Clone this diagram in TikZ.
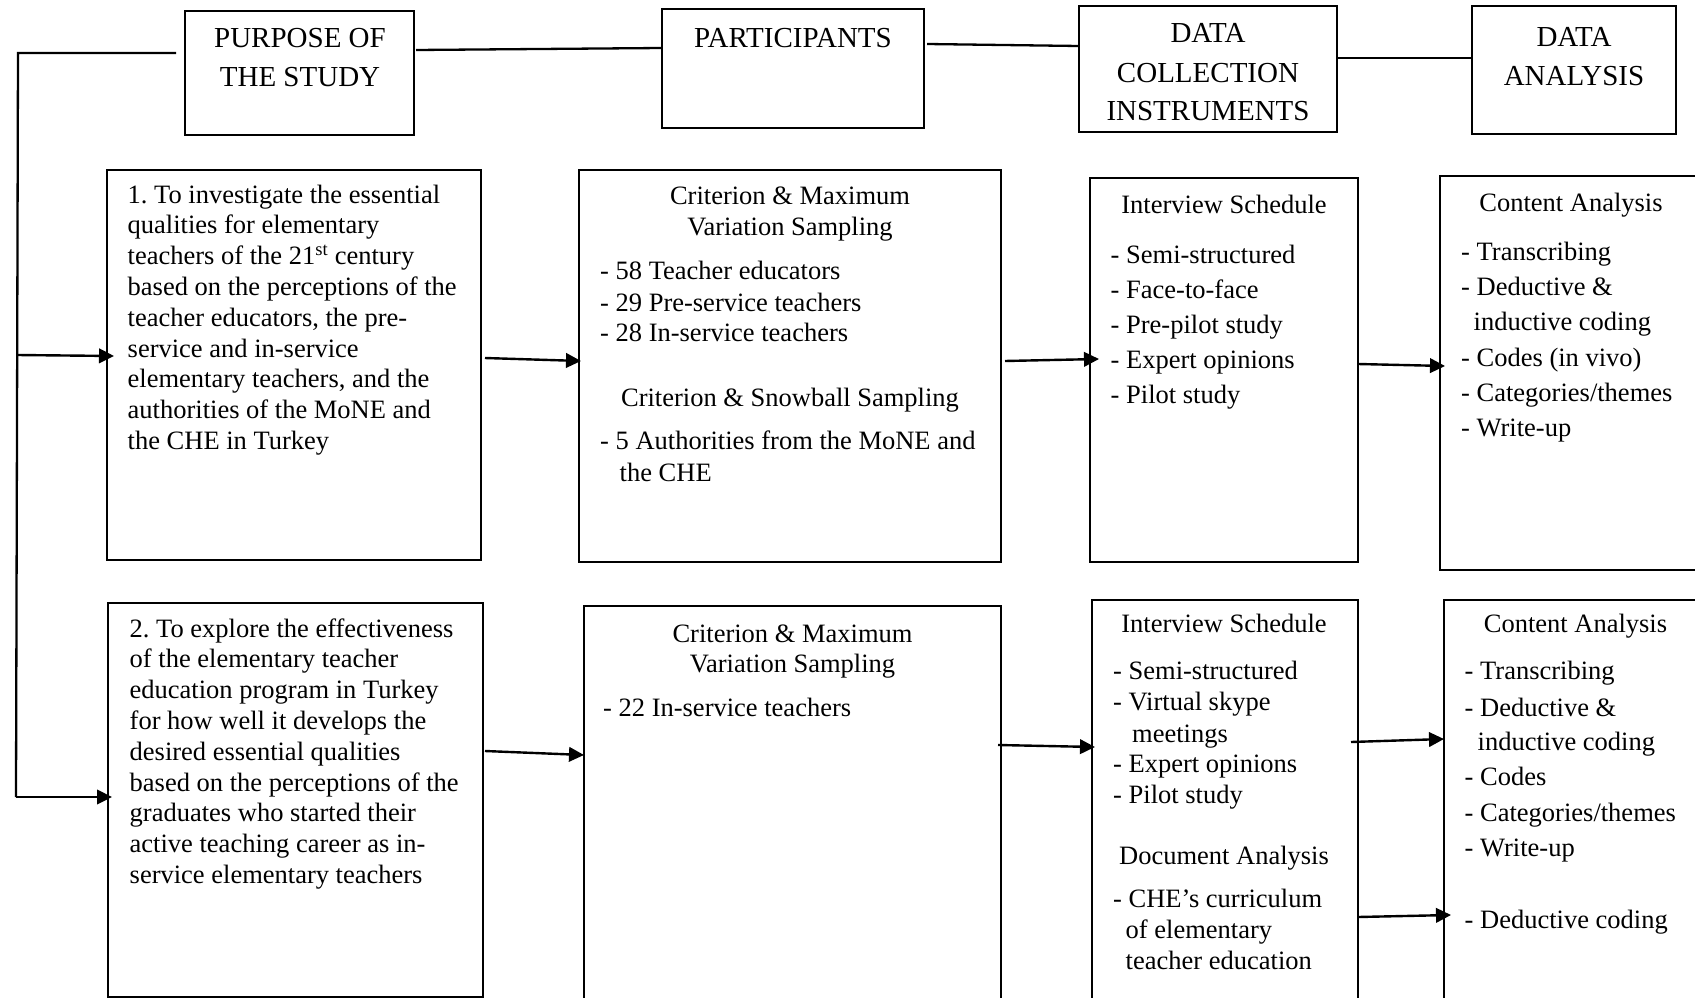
\documentclass[tikz,border=0pt]{standalone}
\usepackage{fontspec}
\setmainfont{Liberation Serif}
\usetikzlibrary{arrows.meta}
\frenchspacing
\begin{document}
\begin{tikzpicture}[x=1pt,y=-1pt,
 box/.style={draw, line width=1.8pt, inner sep=0pt, outer sep=0pt, anchor=north west},
 ln/.style={line width=2.3pt},
 arr/.style={line width=2.4pt, -{Triangle[length=15pt,width=14.5pt]}},
 hd/.style={font=\fontsize{29}{38}\selectfont, inner sep=0pt, anchor=base},
 tx/.style={font=\fontsize{26.5}{31}\selectfont, inner sep=0pt, anchor=base west},
 tc/.style={font=\fontsize{26.5}{31}\selectfont, inner sep=0pt, anchor=base},
]
\useasboundingbox (0,0) rectangle (1695,998);
\fill[white] (0,0) rectangle (1695,998);
\clip (0,0) rectangle (1695,998);

% header boxes
\node[box, minimum width=229pt, minimum height=124pt] (hp) at (185,11) {};
\node[box, minimum width=262pt, minimum height=119pt] (hpart) at (662,9) {};
\node[box, minimum width=258pt, minimum height=126pt] (hdc) at (1079,6) {};
\node[box, minimum width=204pt, minimum height=128pt] (hda) at (1472,6) {};

% row boxes
\node[box, minimum width=374pt, minimum height=390pt] (p1) at (107,170) {};
\node[box, minimum width=422pt, minimum height=392pt] (part1) at (579,170) {};
\node[box, minimum width=268pt, minimum height=384pt] (dc1) at (1090,178) {};
\node[box, minimum width=320pt, minimum height=394pt] (da1) at (1440,176) {};
\node[box, minimum width=375pt, minimum height=394pt] (p2) at (108,603) {};
\node[box, minimum width=417pt, minimum height=450pt] (part2) at (584,606) {};
\node[box, minimum width=266pt, minimum height=450pt] (dc2) at (1092,600) {};
\node[box, minimum width=320pt, minimum height=450pt] (da2) at (1444,600) {};

% header texts
\node[hd] (hp-1) at (300,47.5) {PURPOSE OF};
\node[hd] (hp-2) at (300,86.5) {THE STUDY};
\node[hd] (hpart-1) at (793,47.5) {PARTICIPANTS};
\node[hd] (hdc-1) at (1208,43) {DATA};
\node[hd] (hdc-2) at (1208,82) {COLLECTION};
\node[hd] (hdc-3) at (1208,121) {INSTRUMENTS};
\node[hd] (hda-1) at (1574,46.5) {DATA};
\node[hd] (hda-2) at (1574,85.5) {ANALYSIS};

% purpose 1
\foreach \t [count=\i] in {{1. To investigate the essential},{qualities for elementary},{teachers of the 21\textsuperscript{st} century},{based on the perceptions of the},{teacher educators, the pre-},{service and in-service},{elementary teachers, and the},{authorities of the MoNE and},{the CHE in Turkey}}
  \node[tx] (p1-\i) at (127.5,{203+(\i-1)*30.8}) {\t};

% purpose 2
\foreach \t [count=\i] in {{2. To explore the effectiveness},{of the elementary teacher},{education program in Turkey},{for how well it develops the},{desired essential qualities},{based on the perceptions of the},{graduates who started their},{active teaching career as in-},{service elementary teachers}}
  \node[tx] (p2-\i) at (129.5,{637+(\i-1)*30.8}) {\t};

% participants 1
\node[tc] (pa1-1) at (790,204) {Criterion \& Maximum};
\node[tc] (pa1-2) at (790,235) {Variation Sampling};
\node[tx] (pa1-3) at (600,279.5) {- 58 Teacher educators};
\node[tx] (pa1-4) at (600,311) {- 29 Pre-service teachers};
\node[tx] (pa1-5) at (600,341.5) {- 28 In-service teachers};
\node[tc] (pa1-6) at (790,406) {Criterion \& Snowball Sampling};
\node[tx] (pa1-7) at (600,449) {- 5 Authorities from the MoNE and};
\node[tx] (pa1-8) at (619.5,481.5) {the CHE};

% participants 2
\node[tc] (pa2-1) at (792.5,642) {Criterion \& Maximum};
\node[tc] (pa2-2) at (792.5,672) {Variation Sampling};
\node[tx] (pa2-3) at (603,716) {- 22 In-service teachers};

% data collection 1
\node[tc] (dc1-0) at (1224,213.5) {Interview Schedule};
\foreach \t [count=\i] in {{- Semi-structured},{- Face-to-face},{- Pre-pilot study},{- Expert opinions},{- Pilot study}}
  \node[tx] (dc1-\i) at (1110.5,{263+(\i-1)*35.1}) {\t};

% data analysis 1
\node[tc] (da1-0) at (1571,211) {Content Analysis};
\node[tx] (da1-1) at (1461,260) {- Transcribing};
\node[tx] (da1-2) at (1461,295.5) {- Deductive \&};
\node[tx] (da1-3) at (1473.5,330) {inductive coding};
\node[tx] (da1-4) at (1461,366) {- Codes (in vivo)};
\node[tx] (da1-5) at (1461,401.5) {- Categories/themes};
\node[tx] (da1-6) at (1461,436) {- Write-up};

% data collection 2
\node[tc] (dc2-0) at (1224,632) {Interview Schedule};
\node[tx] (dc2-1) at (1113,679.5) {- Semi-structured};
\node[tx] (dc2-2) at (1113,710.6) {- Virtual skype};
\node[tx] (dc2-3) at (1132,742) {meetings};
\node[tx] (dc2-4) at (1113,772.3) {- Expert opinions};
\node[tx] (dc2-5) at (1113,803.6) {- Pilot study};
\node[tc] (dc2-6) at (1224,864) {Document Analysis};
\node[tx] (dc2-7) at (1113,907.4) {- CHE’s curriculum};
\node[tx] (dc2-8) at (1125.5,938.7) {of elementary};
\node[tx] (dc2-9) at (1125.5,969) {teacher education};

% data analysis 2
\node[tc] (da2-0) at (1575.5,632) {Content Analysis};
\node[tx] (da2-1) at (1464.5,679.3) {- Transcribing};
\node[tx] (da2-2) at (1464.5,716) {- Deductive \&};
\node[tx] (da2-3) at (1477.5,750.6) {inductive coding};
\node[tx] (da2-4) at (1464.5,785) {- Codes};
\node[tx] (da2-5) at (1464.5,821) {- Categories/themes};
\node[tx] (da2-6) at (1464.5,856.6) {- Write-up};
\node[tx] (da2-7) at (1464.5,928) {- Deductive coding};

% header connectors
\coordinate (lt) at (18,53);
\coordinate (v1) at (17,355);
\coordinate (lb) at (16,797);
\draw[ln] ([xshift=-9pt,yshift=-42pt]hp.north west) -- (lt) -- (lb);
\draw[ln] ([xshift=2pt,yshift=-39pt]hp.north east) -- ([yshift=-39pt]hpart.north west);
\draw[ln] ([xshift=3pt,yshift=-35pt]hpart.north east) -- ([yshift=-40pt]hdc.north west);
\draw[ln] ([yshift=-52pt]hdc.north east) -- ([yshift=-52pt]hda.north west);

% arrows
\draw[arr] (v1) -- ([xshift=7pt,yshift=-186pt]p1.north west);
\draw[arr] (lb) -- ([xshift=4pt,yshift=-194pt]p2.north west);
\draw[arr] ([xshift=4pt,yshift=-188pt]p1.north east) -- ([xshift=2pt,yshift=-191pt]part1.north west);
\draw[arr] ([xshift=4pt,yshift=-191pt]part1.north east) -- ([xshift=9pt,yshift=-181pt]dc1.north west);
\draw[arr] ([yshift=-186pt]dc1.north east) -- ([xshift=5pt,yshift=-190pt]da1.north west);
\draw[arr] ([xshift=2pt,yshift=-148pt]p2.north east) -- ([yshift=-149pt]part2.north west);
\draw[arr] ([xshift=-3pt,yshift=-139pt]part2.north east) -- ([xshift=3pt,yshift=-147pt]dc2.north west);
\draw[arr] ([xshift=-7pt,yshift=-142pt]dc2.north east) -- ([yshift=-139pt]da2.north west);
\draw[arr] ([yshift=-317pt]dc2.north east) -- ([xshift=7pt,yshift=-315pt]da2.north west);
\end{tikzpicture}
\end{document}
